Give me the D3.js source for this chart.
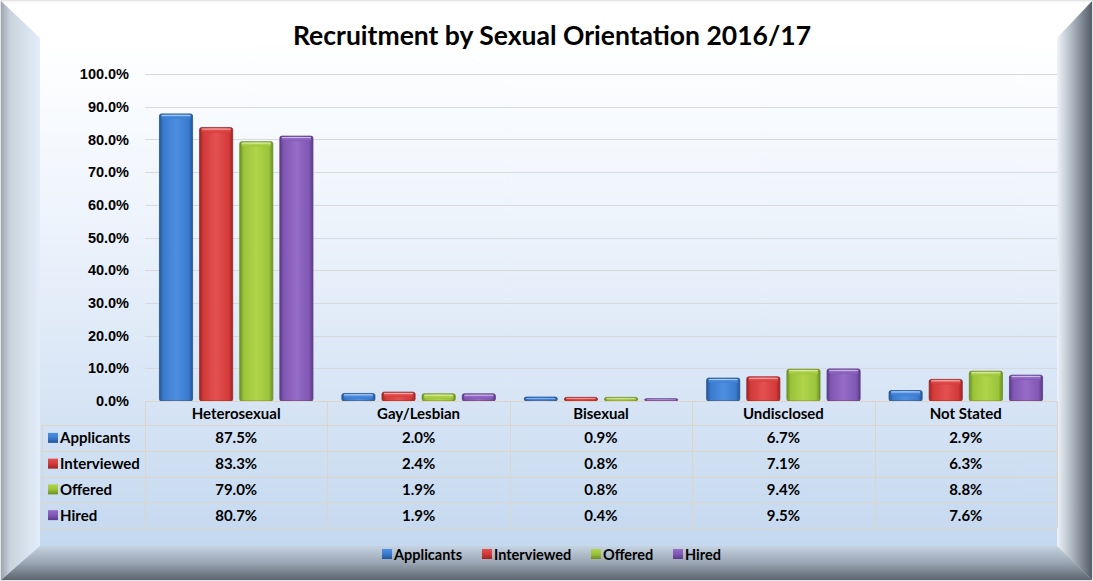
<!DOCTYPE html>
<html>
<head>
<meta charset="utf-8">
<script src="https://cdn.jsdelivr.net/npm/d3@7"></script>
<style>
  body { margin: 0; background: #fff; }
  svg { display: block; font-family: Lato, "Open Sans", sans-serif; font-weight: bold; }
</style>
</head>
<body>
<svg></svg>
<script>
let width = 1093, height = 581;

// data
let categories = ["Heterosexual", "Gay/Lesbian", "Bisexual", "Undisclosed", "Not Stated"];
let seriesNames = ["Applicants", "Interviewed", "Offered", "Hired"];
let applicants = [87.5, 2.0, 0.9, 6.7, 2.9];
let interviewed = [83.3, 2.4, 0.8, 7.1, 6.3];
let offered = [79.0, 1.9, 0.8, 9.4, 8.8];
let hired = [80.7, 1.9, 0.4, 9.5, 7.6];
let yTicks = [0, 10, 20, 30, 40, 50, 60, 70, 80, 90, 100];

let values = [applicants, interviewed, offered, hired];
// light / mid / dark for each series
let colors = [
    ["#4f8fe0", "#3a7bcf", "#245594"],
    ["#e45050", "#d43a3a", "#9c2424"],
    ["#b0d44a", "#9ac43a", "#6c8e22"],
    ["#956cc6", "#8157b5", "#5b3a86"]
];

let svg = d3.select("svg")
    .attr("width", width)
    .attr("height", height)
    .attr("viewBox", "0 0 " + width + " " + height);

let defs = svg.append("defs");

function linGrad(id, x2, y2, stops) {
    let g = defs.append("linearGradient").attr("id", id)
        .attr("x1", 0).attr("y1", 0).attr("x2", x2).attr("y2", y2);
    stops.forEach(s => g.append("stop").attr("offset", s[0]).attr("stop-color", s[1]));
}

linGrad("panel", 0, 1, [[0, "#ffffff"], [0.35, "#eef4fc"], [1, "#c4d8ef"]]);
linGrad("leftBevel", 1, 0, [[0, "#98a1ab"], [0.25, "#c9d3de"], [1, "#e4eefa"]]);
linGrad("rightBevel", 1, 0, [[0, "#eef3f9"], [0.45, "#a9b2bc"], [1, "#4f5862"]]);
linGrad("bottomBevel", 0, 1, [[0, "#c6d3e2"], [0.5, "#97a3b0"], [1, "#58616b"]]);
linGrad("topBevel", 0, 1, [[0, "#eeeeee"], [0.1, "#ffffff"], [1, "#ffffff"]]);

colors.forEach((c, i) => {
    linGrad("bar" + i, 1, 0, [[0, c[2]], [0.12, c[1]], [0.5, c[0]], [0.88, c[1]], [1, c[2]]]);
    linGrad("cap" + i, 0, 1, [[0, "#ffffff"], [0.35, c[0]], [1, c[1]]]);
    linGrad("key" + i, 0, 1, [[0, c[0]], [0.5, c[1]], [1, c[2]]]);
});

// frame
let inL = 40, inT = 38, inR = 1057, inB = 546;
svg.append("rect").attr("x", 0).attr("y", 0).attr("width", width).attr("height", height).attr("fill", "url(#panel)");
svg.append("polygon").attr("points", [[0, 0], [width, 0], [inR, inT], [inL, inT]].join(" ")).attr("fill", "url(#topBevel)");
svg.append("polygon").attr("points", [[0, 0], [inL, inT], [inL, inB], [0, height]].join(" ")).attr("fill", "url(#leftBevel)");
svg.append("polygon").attr("points", [[width, 0], [inR, inT], [inR, inB], [width, height]].join(" ")).attr("fill", "url(#rightBevel)");
svg.append("polygon").attr("points", [[0, height], [inL, inB], [inR, inB], [width, height]].join(" ")).attr("fill", "url(#bottomBevel)");
svg.append("rect").attr("x", inL).attr("y", inT).attr("width", inR - inL).attr("height", inB - inT).attr("fill", "url(#panel)");
svg.append("rect").attr("x", 0.5).attr("y", 0.5).attr("width", width - 1).attr("height", height - 1)
    .attr("fill", "none").attr("stroke", "#e6e6e6");

// title
svg.append("text")
    .attr("x", 552).attr("y", 45)
    .attr("text-anchor", "middle")
    .style("font-size", "26.5px")
    .attr("fill", "#000")
    .text("Recruitment by Sexual Orientation 2016/17");

// scales
let x = d3.scaleBand().domain(categories).range([145, 1057]);
let xs = d3.scaleBand().domain(seriesNames).range([0, x.bandwidth()])
    .paddingInner(0.175).paddingOuter(0.36);
let y = d3.scaleLinear().domain([0, 100]).range([401, 74]);

// gridlines
svg.append("g").selectAll("line").data(yTicks).enter().append("line")
    .attr("x1", 145).attr("x2", 1057)
    .attr("y1", d => Math.round(y(d)) + 0.5).attr("y2", d => Math.round(y(d)) + 0.5)
    .attr("stroke", "#d6d9dd");

// y axis labels
let yAxis = d3.axisLeft(y).tickValues(yTicks).tickSize(0).tickPadding(16)
    .tickFormat(d => d3.format(".1f")(d) + "%");
let ya = svg.append("g").attr("transform", "translate(145,0)").call(yAxis);
ya.select(".domain").remove();
ya.selectAll("text").style("font-size", "14.5px").style("font-family", null).attr("fill", "#000");

// bars
let groups = svg.append("g").selectAll("g").data(values).enter().append("g");
groups.each(function (vals, i) {
    let g = d3.select(this);
    let bars = g.selectAll("g").data(vals.map((v, j) => ({v: v, c: categories[j]}))).enter().append("g")
        .attr("transform", d => "translate(" + (x(d.c) + xs(seriesNames[i])) + ",0)");
    bars.append("rect")
        .attr("x", 0).attr("y", d => y(d.v) - 1)
        .attr("width", xs.bandwidth())
        .attr("height", d => y(0) - y(d.v) + 1)
        .attr("rx", 2)
        .attr("fill", "url(#bar" + i + ")")
        .attr("stroke", colors[i][2]).attr("stroke-width", 0.8);
    bars.append("rect")
        .attr("x", 2).attr("y", d => y(d.v))
        .attr("width", xs.bandwidth() - 4)
        .attr("height", d => Math.min(4, Math.max(1, y(0) - y(d.v) - 1)))
        .attr("fill", "url(#cap" + i + ")")
        .attr("opacity", 0.85);
});

// data table
let rowTop = 425, rowBot = 528;
let rows = d3.scaleBand().domain(seriesNames).range([rowTop, rowBot]);
let lineColor = "#ddd6c8";
let table = svg.append("g");

// horizontal lines
table.append("line").attr("x1", 145).attr("x2", 1057).attr("y1", 401.5).attr("y2", 401.5).attr("stroke", lineColor);
table.selectAll(".hl").data(seriesNames.concat(["end"])).enter().append("line")
    .attr("x1", 42).attr("x2", 1057)
    .attr("y1", d => d === "end" ? rowBot + 0.5 : Math.round(rows(d)) + 0.5)
    .attr("y2", d => d === "end" ? rowBot + 0.5 : Math.round(rows(d)) + 0.5)
    .attr("stroke", lineColor);
// vertical lines
table.selectAll(".vl").data(categories.concat(["end"])).enter().append("line")
    .attr("x1", d => d === "end" ? 1057.5 : Math.round(x(d)) + 0.5)
    .attr("x2", d => d === "end" ? 1057.5 : Math.round(x(d)) + 0.5)
    .attr("y1", 401).attr("y2", rowBot)
    .attr("stroke", lineColor);
table.append("line").attr("x1", 42.5).attr("x2", 42.5).attr("y1", rowTop).attr("y2", rowBot).attr("stroke", lineColor);

// header
table.selectAll(".hd").data(categories).enter().append("text")
    .attr("x", d => x(d) + x.bandwidth() / 2)
    .attr("y", 419)
    .attr("text-anchor", "middle")
    .style("font-size", "15px")
    .text(d => d);

// row labels with keys
seriesNames.forEach((s, i) => {
    let cy = rows(s) + rows.bandwidth() / 2;
    table.append("rect")
        .attr("x", 48).attr("y", cy - 5).attr("width", 10).attr("height", 10)
        .attr("fill", "url(#key" + i + ")");
    table.append("text")
        .attr("x", 60).attr("y", cy + 5.5)
        .style("font-size", "15px")
        .text(s);
    table.selectAll(".v" + i).data(values[i]).enter().append("text")
        .attr("x", (d, j) => x(categories[j]) + x.bandwidth() / 2)
        .attr("y", cy + 5.5)
        .attr("text-anchor", "middle")
        .style("font-size", "15px")
        .text(d => d3.format(".1f")(d) + "%");
});

// legend
let legend = svg.append("g").attr("transform", "translate(382,554)");
let legendX = [0, 100, 209, 291];
seriesNames.forEach((s, i) => {
    let lg = legend.append("g").attr("transform", "translate(" + legendX[i] + ",0)");
    lg.append("rect").attr("x", 0).attr("y", -5).attr("width", 10).attr("height", 10)
        .attr("fill", "url(#key" + i + ")");
    lg.append("text").attr("x", 12).attr("y", 5.5).style("font-size", "14.5px").text(s);
});
</script>
</body>
</html>
